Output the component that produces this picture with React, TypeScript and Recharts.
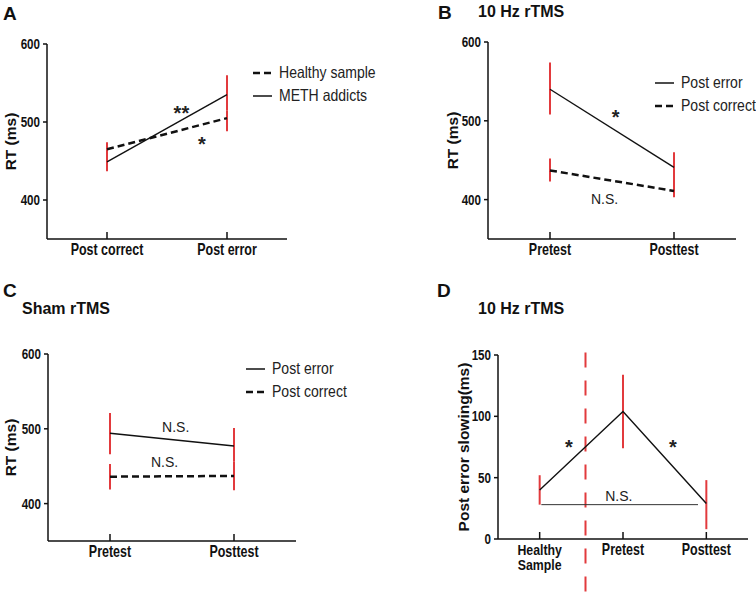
import React from "react";
import {
  LineChart,
  Line,
  XAxis,
  YAxis,
  ErrorBar,
  Legend,
  ReferenceDot,
  ReferenceLine,
} from "recharts";

const SANS = '"Liberation Sans", Arial, sans-serif';
const RED = "#e23a3d";
const INK = "#111";
const SQUEEZE = 0.78; // the figure uses a condensed face; no narrow font is installed

// panel A
const catsA = ["Post correct", "Post error"];
const healthyA = [465, 505];
const healthyErrA = [[10, 9], [17, 10]];
const methA = [449, 535];
const methErrA = [[12, 11], [20, 25]];

// panel B (10 Hz rTMS)
const catsB = ["Pretest", "Posttest"];
const postErrorB = [540, 441];
const postErrorErrB = [[32, 34], [11, 19]];
const postCorrectB = [437, 411];
const postCorrectErrB = [[14, 15], [8, 19]];

// panel C (sham rTMS)
const catsC = ["Pretest", "Posttest"];
const postErrorC = [494, 477];
const postErrorErrC = [[28, 27], [21, 24]];
const postCorrectC = [436, 437];
const postCorrectErrC = [[17, 17], [19, 19]];

// panel D (post error slowing)
const catsD = ["Healthy\nSample", "Pretest", "Posttest"];
const slowingD = [40, 104, 29];
const slowingErrD = [[12, 12], [30, 30], [21, 19]];

const rtTicks = [400, 500, 600];
const slowTicks = [0, 50, 100, 150];

const dataA = catsA.map((c, i) => ({
  x: i,
  healthy: healthyA[i],
  healthyErr: healthyErrA[i],
  meth: methA[i],
  methErr: methErrA[i],
}));
const dataB = catsB.map((c, i) => ({
  x: i,
  err: postErrorB[i],
  errErr: postErrorErrB[i],
  cor: postCorrectB[i],
  corErr: postCorrectErrB[i],
}));
const dataC = catsC.map((c, i) => ({
  x: i,
  err: postErrorC[i],
  errErr: postErrorErrC[i],
  cor: postCorrectC[i],
  corErr: postCorrectErrC[i],
}));
const dataD = catsD.map((c, i) => ({ x: i, slow: slowingD[i], slowErr: slowingErrD[i] }));

// squeeze horizontally around the anchor x
const squeezeAt = (x: number, k = SQUEEZE) => `matrix(${k} 0 0 1 ${x * (1 - k)} 0)`;

const makeTick = (labels: string[]) => (props: any) => {
  const { x, y, payload } = props;
  const lines = String(labels[payload.value] ?? "").split("\n");
  const fs = lines.length > 1 ? 14.5 : 16;
  return (
    <text
      x={x}
      y={y}
      textAnchor="middle"
      fontFamily={SANS}
      fontWeight="bold"
      fontSize={fs}
      fill={INK}
      transform={squeezeAt(x, lines.length > 1 ? 0.85 : SQUEEZE)}
    >
      {lines.map((l, i) => (
        <tspan key={i} x={x} dy={i === 0 ? 13 : 15}>
          {l}
        </tspan>
      ))}
    </text>
  );
};

const YTick = (props: any) => {
  const { x, y, payload } = props;
  return (
    <text
      x={x}
      y={y}
      dy={5}
      textAnchor="end"
      fontFamily={SANS}
      fontWeight="bold"
      fontSize={14.5}
      fill={INK}
      transform={squeezeAt(x, 0.8)}
    >
      {payload.value}
    </text>
  );
};

const makeLegend = (order: string[]) => (props: any) => {
  const items = (props.payload || [])
    .filter((p: any) => p.type !== "none")
    .sort((a: any, b: any) => order.indexOf(a.value) - order.indexOf(b.value));
  return (
    <div style={{ fontFamily: SANS, fontSize: 16.5, color: "#222" }}>
      {items.map((entry: any) => (
        <div key={entry.value} style={{ display: "flex", alignItems: "center", height: 23, whiteSpace: "nowrap" }}>
          <svg width={19} height={4}>
            <line
              x1={0}
              y1={2}
              x2={19}
              y2={2}
              stroke={INK}
              strokeWidth={entry.payload?.strokeDasharray ? 2.5 : 1.5}
              strokeDasharray={entry.payload?.strokeDasharray}
            />
          </svg>
          <span
            style={{
              marginLeft: 7,
              display: "inline-block",
              transform: "scaleX(0.85)",
              transformOrigin: "left center",
            }}
          >
            {entry.value}
          </span>
        </div>
      ))}
    </div>
  );
};

const axisLine = { stroke: INK, strokeWidth: 1.5 };
const yLabel = (value: string, offset: number) => ({
  value,
  angle: -90,
  position: "insideLeft" as const,
  offset,
  style: { textAnchor: "middle", fontFamily: SANS, fontWeight: "bold", fontSize: 15.5, fill: INK },
});
const note = (value: string, size = 13, bold = false) => ({
  value,
  position: "center" as const,
  fontFamily: SANS,
  fontSize: size,
  fontWeight: bold ? "bold" : "normal",
  fill: "#222",
});

function ChartA() {
  return (
    <LineChart width={378} height={299} data={dataA} margin={{ top: 44, right: 91, bottom: 30, left: 0 }}>
      <XAxis
        type="number"
        dataKey="x"
        domain={[-0.5, 1.5]}
        ticks={[0, 1]}
        tick={makeTick(catsA)}
        tickSize={-7}
        tickMargin={10}
        axisLine={axisLine}
        tickLine={axisLine}
        height={30}
      />
      <YAxis
        domain={[350, 600]}
        ticks={rtTicks}
        width={47}
        tick={<YTick />}
        tickSize={4}
        tickMargin={3}
        axisLine={axisLine}
        tickLine={axisLine}
        label={yLabel("RT (ms)", 10)}
      />
      <Line
        dataKey="healthy"
        name="Healthy sample"
        stroke={INK}
        strokeWidth={2.5}
        strokeDasharray="7 4"
        dot={false}
        activeDot={false}
        isAnimationActive={false}
      >
        <ErrorBar dataKey="healthyErr" width={0} stroke={RED} strokeWidth={2} direction="y" />
      </Line>
      <Line
        dataKey="meth"
        name="METH addicts"
        stroke={INK}
        strokeWidth={1.4}
        dot={false}
        activeDot={false}
        isAnimationActive={false}
      >
        <ErrorBar dataKey="methErr" width={0} stroke={RED} strokeWidth={2} direction="y" />
      </Line>
      <ReferenceDot x={0.62} y={512} r={0} label={note("**", 20, true)} />
      <ReferenceDot x={0.79} y={472} r={0} label={note("*", 20, true)} />
      <Legend
        layout="vertical"
        align="center"
        verticalAlign="middle"
        wrapperStyle={{ left: 253, top: 61 }}
        content={makeLegend(["Healthy sample", "METH addicts"])}
      />
    </LineChart>
  );
}

function ChartB() {
  return (
    <LineChart width={378} height={299} data={dataB} margin={{ top: 42, right: 20, bottom: 30, left: 60 }}>
      <XAxis
        type="number"
        dataKey="x"
        domain={[-0.5, 1.5]}
        ticks={[0, 1]}
        tick={makeTick(catsB)}
        tickSize={-7}
        tickMargin={10}
        axisLine={axisLine}
        tickLine={axisLine}
        height={30}
      />
      <YAxis
        domain={[350, 600]}
        ticks={rtTicks}
        width={50}
        tick={<YTick />}
        tickSize={4}
        tickMargin={3}
        axisLine={axisLine}
        tickLine={axisLine}
        label={yLabel("RT (ms)", 14)}
      />
      <Line dataKey="err" name="Post error" stroke={INK} strokeWidth={1.4} dot={false} activeDot={false} isAnimationActive={false}>
        <ErrorBar dataKey="errErr" width={0} stroke={RED} strokeWidth={2} direction="y" />
      </Line>
      <Line
        dataKey="cor"
        name="Post correct"
        stroke={INK}
        strokeWidth={2.5}
        strokeDasharray="7 4"
        dot={false}
        activeDot={false}
        isAnimationActive={false}
      >
        <ErrorBar dataKey="corErr" width={0} stroke={RED} strokeWidth={2} direction="y" />
      </Line>
      <ReferenceDot x={0.53} y={505} r={0} label={note("*", 20, true)} />
      <ReferenceDot x={0.44} y={401} r={0} label={note("N.S.", 14)} />
      <Legend
        layout="vertical"
        align="center"
        verticalAlign="middle"
        wrapperStyle={{ left: 277, top: 71 }}
        content={makeLegend(["Post error", "Post correct"])}
      />
    </LineChart>
  );
}

function ChartC() {
  return (
    <LineChart width={378} height={299} data={dataC} margin={{ top: 55, right: 82, bottom: 27, left: 0 }}>
      <XAxis
        type="number"
        dataKey="x"
        domain={[-0.5, 1.5]}
        ticks={[0, 1]}
        tick={makeTick(catsC)}
        tickSize={-7}
        tickMargin={10}
        axisLine={axisLine}
        tickLine={axisLine}
        height={30}
      />
      <YAxis
        domain={[350, 600]}
        ticks={rtTicks}
        width={48}
        tick={<YTick />}
        tickSize={4}
        tickMargin={3}
        axisLine={axisLine}
        tickLine={axisLine}
        label={yLabel("RT (ms)", 10)}
      />
      <Line dataKey="err" name="Post error" stroke={INK} strokeWidth={1.4} dot={false} activeDot={false} isAnimationActive={false}>
        <ErrorBar dataKey="errErr" width={0} stroke={RED} strokeWidth={2} direction="y" />
      </Line>
      <Line
        dataKey="cor"
        name="Post correct"
        stroke={INK}
        strokeWidth={2.5}
        strokeDasharray="7 4"
        dot={false}
        activeDot={false}
        isAnimationActive={false}
      >
        <ErrorBar dataKey="corErr" width={0} stroke={RED} strokeWidth={2} direction="y" />
      </Line>
      <ReferenceDot x={0.53} y={503} r={0} label={note("N.S.", 14)} />
      <ReferenceDot x={0.44} y={456} r={0} label={note("N.S.", 14)} />
      <Legend
        layout="vertical"
        align="center"
        verticalAlign="middle"
        wrapperStyle={{ left: 246, top: 58 }}
        content={makeLegend(["Post error", "Post correct"])}
      />
    </LineChart>
  );
}

function ChartD() {
  return (
    <LineChart width={378} height={299} data={dataD} margin={{ top: 56, right: 8, bottom: 29, left: 60 }}>
      <XAxis
        type="number"
        dataKey="x"
        domain={[-0.5, 2.5]}
        ticks={[0, 1, 2]}
        tick={makeTick(catsD)}
        tickSize={-7}
        tickMargin={10}
        axisLine={axisLine}
        tickLine={axisLine}
        height={30}
      />
      <YAxis
        domain={[0, 150]}
        ticks={slowTicks}
        width={60}
        tick={<YTick />}
        tickSize={4}
        tickMargin={3}
        axisLine={axisLine}
        tickLine={axisLine}
        label={yLabel("Post error slowing(ms)", 25)}
      />
      <ReferenceLine
        segment={[
          { x: 0.55, y: 152 },
          { x: 0.55, y: -46 },
        ]}
        stroke={RED}
        strokeWidth={2}
        strokeDasharray="15 13"
        ifOverflow="visible"
      />
      <ReferenceLine
        segment={[
          { x: 0.02, y: 28 },
          { x: 1.9, y: 28 },
        ]}
        stroke="#333"
        strokeWidth={1}
        ifOverflow="visible"
      />
      <Line dataKey="slow" name="Post error slowing" stroke={INK} strokeWidth={1.4} dot={false} activeDot={false} isAnimationActive={false}>
        <ErrorBar dataKey="slowErr" width={0} stroke={RED} strokeWidth={2} direction="y" />
      </Line>
      <ReferenceDot x={0.35} y={75} r={0} label={note("*", 20, true)} />
      <ReferenceDot x={1.6} y={75} r={0} label={note("*", 20, true)} />
      <ReferenceDot x={0.95} y={35} r={0} label={note("N.S.", 14)} />
    </LineChart>
  );
}

export default function App() {
  return (
    <div style={{ position: "absolute", left: 0, top: 0, width: 756, height: 598, background: "#fff", overflow: "hidden" }}>
      <div style={{ position: "absolute", left: 0, top: 0 }}>
        <ChartA />
      </div>
      <div style={{ position: "absolute", left: 378, top: 0 }}>
        <ChartB />
      </div>
      <div style={{ position: "absolute", left: 0, top: 299 }}>
        <ChartC />
      </div>
      <div style={{ position: "absolute", left: 378, top: 299 }}>
        <ChartD />
      </div>
      <svg width={756} height={598} style={{ position: "absolute", left: 0, top: 0, pointerEvents: "none" }}>
        <g fontFamily={SANS} fontWeight="bold" fill={INK}>
          <text x={3} y={20} fontSize={19}>A</text>
          <text x={438} y={19} fontSize={19}>B</text>
          <text x={3} y={297} fontSize={19}>C</text>
          <text x={437} y={297} fontSize={19}>D</text>
          <text x={478} y={17} fontSize={16}>10 Hz rTMS</text>
          <text x={22} y={314} fontSize={16}>Sham rTMS</text>
          <text x={478} y={314} fontSize={16}>10 Hz rTMS</text>
        </g>
      </svg>
    </div>
  );
}
